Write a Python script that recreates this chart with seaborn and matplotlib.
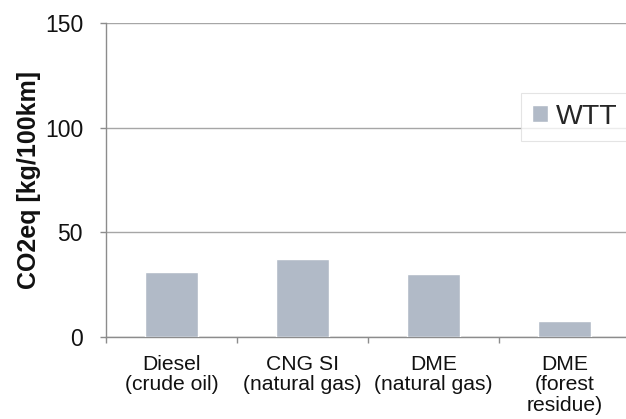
import matplotlib
matplotlib.use("Agg")
import matplotlib.pyplot as plt
import seaborn as sns
import pandas as pd

# Well-to-tank CO2-equivalent emissions per fuel pathway
categories = ["Diesel\n(crude oil)", "CNG SI\n(natural gas)", "DME\n(natural gas)", "DME\n(forest\nresidue)"]
wtt_values = [30.9, 37.3, 29.9, 7.7]
y_ticks = [0, 50, 100, 150]
series_name = "WTT"

sns.set_theme(style="white")
plt.rcParams["font.family"] = ["Liberation Sans", "DejaVu Sans"]

bar_color = "#b1bac7"
grid_color = "#a6a6a6"
axis_color = "#8c8c8c"

df = pd.DataFrame({"pathway": categories, "co2eq": wtt_values})

fig = plt.figure(figsize=(6.26, 4.19), dpi=100)
ax = fig.add_axes([106 / 626, 1 - 336.7 / 419, 524 / 626, 313.7 / 419])

sns.barplot(data=df, x="pathway", y="co2eq", color=bar_color, width=0.4,
            saturation=1, ax=ax, zorder=3)

ax.set_xlim(-0.5, 3.5)
ax.set_ylim(0, 150)
ax.set_yticks(y_ticks)
ax.yaxis.grid(True, color=grid_color, linewidth=1.0, zorder=0)
ax.set_axisbelow(True)

for side in ["top", "right"]:
    ax.spines[side].set_visible(False)
for side in ["left", "bottom"]:
    ax.spines[side].set_color(axis_color)
    ax.spines[side].set_linewidth(1.0)

# y ticks point outward; x ticks mark the category boundaries
ax.tick_params(axis="y", which="major", direction="out", length=4.5, width=1.0,
               color=axis_color, left=True, labelsize=16.5, labelcolor="#111111", pad=12)
ax.set_xticks([-0.5, 0.5, 1.5, 2.5], minor=True)
ax.tick_params(axis="x", which="minor", direction="out", length=4.5, width=1.0,
               color=axis_color, bottom=True)
ax.tick_params(axis="x", which="major", length=0, labelsize=15.2, labelcolor="#111111", pad=13)
for lbl in ax.get_xticklabels():
    lbl.set_linespacing(1.1)

ax.set_xlabel("")
ax.set_ylabel("CO2eq [kg/100km]", fontsize=18, fontweight="bold", color="#111111", labelpad=3)

leg = ax.legend([ax.patches[0]], [series_name], loc="upper left",
                bbox_to_anchor=(521 / 626, 1 - 93 / 419), bbox_transform=fig.transFigure,
                borderaxespad=0, fontsize=20.5, frameon=True, fancybox=False,
                handlelength=0.56, handleheight=0.56, handletextpad=0.3,
                borderpad=0.38)
leg.get_frame().set_edgecolor("#dedede")
leg.get_frame().set_linewidth(0.8)
leg.set_zorder(5)

fig.savefig("out.png", dpi=100)
